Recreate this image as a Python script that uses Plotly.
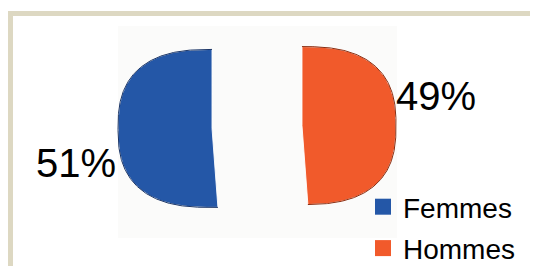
import numpy as np
import plotly.graph_objects as go

# ---- data ----
categories = ["Femmes", "Hommes"]
values = [51, 49]

# ---- style ----
colors = ["#2457A7", "#F15A2B"]
edge_colors = ["#1B3566", "#8A2E12"]
W, H = 530, 258            # figure size (page body adds an 8px margin)
OFF = 8                    # page body margin compensation (px)
CX, CY = 257, 127          # pie centre (page px)
A, B = 94, 79              # horizontal / vertical radius (px)
N = 2.6                    # superellipse exponent (squarish 3D look)
PULL = 45                  # explode distance (px)
LABEL_POS = [(76, 163), (436, 96)]
FONT = "Liberation Sans, Arial, sans-serif"


def unit_dir(t):
    r = np.radians(t)
    return -np.sin(r), -np.cos(r)   # t: degrees counter-clockwise from 12 o'clock


def boundary(t):
    ux, uy = unit_dir(t)
    r = (np.abs(ux) ** N + np.abs(uy) ** N) ** (-1.0 / N)
    return A * r * ux, B * r * uy


fig = go.Figure()

total = float(sum(values))
start = 0.0
for cat, val, col, ecol in zip(categories, values, colors, edge_colors):
    span = 360.0 * val / total
    end = start + span
    mid = (start + end) / 2
    mx, my = unit_dir(mid)
    ax, ay = CX + PULL * mx, CY + PULL * my
    ts = np.linspace(start, end, 240)
    bx, by = boundary(ts)
    xs = np.concatenate([[ax], ax + bx, [ax]])
    ys = np.concatenate([[ay], ay + by, [ay]])
    fig.add_trace(go.Scatter(x=xs, y=ys, mode="lines", fill="toself",
                             fillcolor=col, line=dict(color="rgba(255,255,255,0.9)", width=1),
                             hoverinfo="skip", showlegend=False))
    fig.add_trace(go.Scatter(x=ax + bx, y=ay + by, mode="lines",
                             line=dict(color=ecol, width=1),
                             hoverinfo="skip", showlegend=False))
    start = end

# legend entries
for cat, col in zip(categories, colors):
    fig.add_trace(go.Scatter(x=[None], y=[None], mode="markers", name=cat,
                             legendgroup=cat,
                             marker=dict(symbol="square", size=17, color=col)))

# percentage labels
for (lx, ly), val in zip(LABEL_POS, values):
    fig.add_annotation(x=lx, y=ly, xref="x", yref="y", text=f"{val}%",
                       showarrow=False, xanchor="center", yanchor="middle",
                       font=dict(size=40, color="black", family=FONT))

bx0 = (10.5 - OFF) / W
by0 = 1 - (13.5 - OFF) / H
fig.update_layout(
    width=W, height=H,
    margin=dict(l=0, r=0, t=0, b=0, autoexpand=False),
    paper_bgcolor="white", plot_bgcolor="white",
    xaxis=dict(range=[OFF, W + OFF], visible=False, fixedrange=True),
    yaxis=dict(range=[H + OFF, OFF], visible=False, fixedrange=True),
    showlegend=True,
    legend=dict(x=(363 - OFF) / W, y=1 - (182 - OFF) / H, xanchor="left", yanchor="top",
                font=dict(size=28, color="black", family=FONT),
                bgcolor="rgba(0,0,0,0)", traceorder="grouped", tracegroupgap=2,
                itemsizing="trace"),
    shapes=[
        dict(type="rect", xref="x", yref="y", x0=118, x1=397, y0=26, y1=238,
             fillcolor="#FBFBFA", line=dict(width=0), layer="below"),
        dict(type="path", xref="paper", yref="paper",
             path=f"M {bx0},-0.2 L {bx0},{by0} L 1.2,{by0}",
             line=dict(color="#DDD8C2", width=5), layer="above"),
    ],
)

fig.write_html("out.html")
